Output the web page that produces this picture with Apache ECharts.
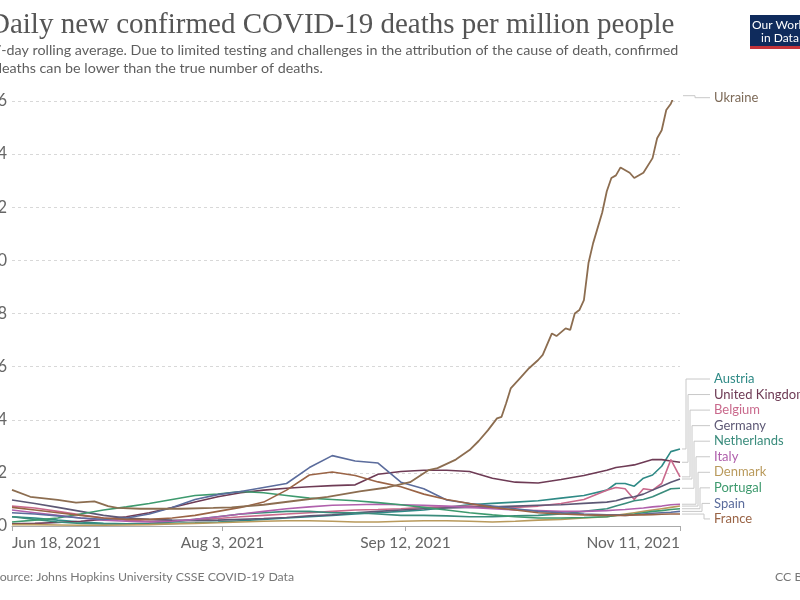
<!DOCTYPE html>
<html><head><meta charset="utf-8">
<script src="https://cdn.jsdelivr.net/npm/echarts@6/dist/echarts.min.js"></script>
<style>html,body{margin:0;padding:0;background:#fff}#c{width:800px;height:600px}</style>
</head><body><div id="c"></div>
<script>
// ---- data ----
const dates = ['2021-06-18','2021-06-23','2021-06-28','2021-07-03','2021-07-08','2021-07-13','2021-07-18','2021-07-23','2021-07-28','2021-08-02','2021-08-07','2021-08-12','2021-08-17','2021-08-22','2021-08-27','2021-09-01','2021-09-06','2021-09-11','2021-09-16','2021-09-21','2021-09-26','2021-10-01','2021-10-06','2021-10-11','2021-10-16','2021-10-21','2021-10-26','2021-10-28','2021-10-30','2021-11-01','2021-11-03','2021-11-05','2021-11-07','2021-11-09','2021-11-11'];
const austria = [0.35,0.3,0.22,0.15,0.1,0.08,0.08,0.1,0.12,0.15,0.2,0.25,0.3,0.35,0.4,0.45,0.5,0.55,0.6,0.7,0.8,0.85,0.9,0.95,1.05,1.15,1.35,1.6,1.6,1.5,1.8,1.92,2.25,2.8,2.9];
const unitedKingdom = [0.08,0.1,0.13,0.18,0.25,0.35,0.5,0.7,0.9,1.1,1.25,1.35,1.42,1.48,1.52,1.55,1.95,2.05,2.1,2.1,2.05,1.8,1.65,1.62,1.75,1.9,2.1,2.2,2.25,2.3,2.4,2.5,2.5,2.45,2.4];
const belgium = [0.75,0.68,0.55,0.42,0.3,0.22,0.18,0.2,0.22,0.28,0.35,0.4,0.45,0.5,0.55,0.6,0.62,0.65,0.7,0.72,0.75,0.72,0.7,0.75,0.85,1.0,1.35,1.45,1.4,1.0,1.4,1.35,1.6,2.5,1.85];
const germany = [0.98,0.85,0.7,0.55,0.4,0.3,0.25,0.22,0.2,0.22,0.25,0.28,0.32,0.38,0.42,0.5,0.55,0.6,0.65,0.68,0.7,0.72,0.75,0.78,0.8,0.85,0.9,0.95,1.05,1.1,1.2,1.35,1.5,1.65,1.77];
const netherlands = [0.35,0.25,0.15,0.1,0.08,0.08,0.1,0.15,0.25,0.35,0.45,0.5,0.55,0.55,0.5,0.5,0.45,0.4,0.4,0.38,0.35,0.35,0.38,0.4,0.45,0.55,0.65,0.75,0.85,0.95,1.0,1.1,1.25,1.4,1.42];
const italy = [0.6,0.5,0.4,0.3,0.22,0.18,0.15,0.18,0.25,0.35,0.45,0.55,0.65,0.72,0.78,0.8,0.82,0.8,0.78,0.75,0.7,0.65,0.6,0.58,0.55,0.55,0.58,0.6,0.62,0.65,0.68,0.72,0.75,0.8,0.82];
const denmark = [0.05,0.05,0.04,0.03,0.03,0.04,0.05,0.08,0.1,0.12,0.15,0.18,0.2,0.2,0.18,0.15,0.15,0.18,0.2,0.2,0.18,0.15,0.18,0.22,0.25,0.3,0.35,0.4,0.45,0.5,0.55,0.6,0.65,0.7,0.75];
const portugal = [0.15,0.22,0.3,0.45,0.6,0.72,0.85,1.0,1.15,1.2,1.3,1.25,1.15,1.05,1.0,0.95,0.88,0.8,0.7,0.6,0.5,0.42,0.35,0.3,0.3,0.32,0.35,0.4,0.42,0.45,0.5,0.55,0.58,0.62,0.65];
const spain = [0.5,0.45,0.38,0.3,0.25,0.3,0.45,0.7,1.0,1.18,1.3,1.45,1.6,2.2,2.65,2.45,2.37,1.65,1.4,0.98,0.85,0.75,0.65,0.55,0.5,0.45,0.42,0.42,0.4,0.42,0.45,0.48,0.5,0.52,0.55];
const france = [0.7,0.6,0.5,0.4,0.3,0.25,0.25,0.3,0.4,0.55,0.7,0.9,1.35,1.92,2.03,1.9,1.66,1.48,1.2,1.0,0.85,0.7,0.6,0.5,0.45,0.42,0.4,0.4,0.4,0.42,0.42,0.43,0.44,0.45,0.45];

const ukraineDates = ['2021-06-18','2021-06-22','2021-06-28','2021-07-02','2021-07-06','2021-07-09','2021-07-11','2021-07-16','2021-07-25','2021-08-01','2021-08-05','2021-08-12','2021-08-19','2021-08-26','2021-09-02','2021-09-08','2021-09-13','2021-09-17','2021-09-19','2021-09-23','2021-09-26','2021-09-28','2021-09-30','2021-10-02','2021-10-03','2021-10-04','2021-10-05','2021-10-07','2021-10-09','2021-10-11','2021-10-12','2021-10-14','2021-10-15','2021-10-17','2021-10-18','2021-10-19','2021-10-20','2021-10-21','2021-10-22','2021-10-23','2021-10-25','2021-10-26','2021-10-27','2021-10-28','2021-10-29','2021-10-31','2021-11-01','2021-11-03','2021-11-05','2021-11-06','2021-11-07','2021-11-08','2021-11-09','2021-11-10','2021-11-11'];
const ukraine = [1.36,1.1,0.98,0.88,0.93,0.75,0.68,0.65,0.65,0.68,0.7,0.8,0.95,1.1,1.3,1.45,1.65,2.1,2.18,2.5,2.86,3.2,3.6,4.05,4.11,4.62,5.18,5.56,5.94,6.25,6.44,7.25,7.15,7.44,7.38,8.0,8.13,8.5,9.9,10.64,11.8,12.6,13.1,13.2,13.5,13.3,13.1,13.3,13.85,14.6,14.9,15.66,15.9,16.3,16.2];

const xTickDates = ['2021-06-18','2021-08-03','2021-09-12','2021-11-11'];
const yMin = 0, yMax = 16, yStep = 2;

const countries = [
  {name:'Austria', values:austria, color:'#2f8a86'},
  {name:'United Kingdom', values:unitedKingdom, color:'#6e3b55'},
  {name:'Belgium', values:belgium, color:'#c9698c'},
  {name:'Germany', values:germany, color:'#5d5875'},
  {name:'Netherlands', values:netherlands, color:'#3a8c7c'},
  {name:'Italy', values:italy, color:'#b060ac'},
  {name:'Denmark', values:denmark, color:'#b99a5c'},
  {name:'Portugal', values:portugal, color:'#3e9a6e'},
  {name:'Spain', values:spain, color:'#5b6c9c'},
  {name:'France', values:france, color:'#9a6446'}
];
const ukraineColor = '#8c6d50';

// ---- chart ----
function toTs(s){const p=s.split('-').map(Number);return new Date(p[0],p[1]-1,p[2]).getTime();}
const MONTHS=['Jan','Feb','Mar','Apr','May','Jun','Jul','Aug','Sep','Oct','Nov','Dec'];
const tickVals = xTickDates.map(toTs);
const chart = echarts.init(document.getElementById('c'), null, {renderer:'canvas'});

const series = countries.map(c => ({
  name:c.name, type:'line', showSymbol:false, symbol:'none', animation:false,
  lineStyle:{width:1.6, color:c.color}, itemStyle:{color:c.color},
  data: dates.map((d,i)=>[toTs(d), c.values[i]])
}));
series.push({
  name:'Ukraine', type:'line', showSymbol:false, symbol:'none', animation:false,
  lineStyle:{width:1.8, color:ukraineColor}, itemStyle:{color:ukraineColor},
  data: ukraineDates.map((d,i)=>[toTs(d), ukraine[i]])
});

chart.setOption({
  animation:false,
  grid:{left:12, right:120, top:101, bottom:74, containLabel:false, outerBoundsMode:'none'},
  xAxis:{
    type:'value', min:tickVals[0], max:tickVals[tickVals.length-1],
    axisLine:{lineStyle:{color:'#aaa', width:1}},
    axisTick:{show:true, customValues:tickVals, length:5, lineStyle:{color:'#aaa'}},
    axisLabel:{
      customValues:tickVals, showMinLabel:true, showMaxLabel:true,
      alignMinLabel:'left', alignMaxLabel:'right',
      fontSize:15.5, color:'#666', fontFamily:'Lato', margin:9,
      formatter:function(v){const d=new Date(v);return MONTHS[d.getMonth()]+' '+d.getDate()+', '+d.getFullYear();}
    },
    splitLine:{show:false}
  },
  yAxis:{
    type:'value', min:yMin, max:yMax, interval:yStep,
    axisLine:{show:false}, axisTick:{show:false},
    axisLabel:{margin:5, fontSize:16.5, color:'#666', fontFamily:'Lato'},
    splitLine:{lineStyle:{color:'#d8d8d8', type:[3,3], width:1}}
  },
  series:series
});

// ---- labels, connectors, header, footer ----
const g = [];
g.push({type:'text', x:-11, y:25, style:{text:'Daily new confirmed COVID-19 deaths per million people', font:'29px "Liberation Serif"', fill:'#555', verticalAlign:'middle'}});
g.push({type:'text', x:-7, y:50, style:{text:'7-day rolling average. Due to limited testing and challenges in the attribution of the cause of death, confirmed', font:'14.3px Lato', fill:'#5e5e5e', verticalAlign:'middle'}});
g.push({type:'text', x:-6, y:68, style:{text:'deaths can be lower than the true number of deaths.', font:'14.3px Lato', fill:'#5e5e5e', verticalAlign:'middle'}});
g.push({type:'rect', shape:{x:750, y:15, width:60, height:32}, style:{fill:'#0f2b5c'}});
g.push({type:'rect', shape:{x:750, y:46, width:60, height:3}, style:{fill:'#c4343a'}});
g.push({type:'text', x:780, y:25, style:{text:'Our World', font:'12px Lato', fill:'#fff', align:'center', verticalAlign:'middle'}});
g.push({type:'text', x:780, y:38, style:{text:'in Data', font:'12px Lato', fill:'#fff', align:'center', verticalAlign:'middle'}});
g.push({type:'text', x:-7, y:577, style:{text:'Source: Johns Hopkins University CSSE COVID-19 Data', font:'12.3px Lato', fill:'#777', verticalAlign:'middle'}});
g.push({type:'text', x:775, y:577, style:{text:'CC BY', font:'12.3px Lato', fill:'#777', verticalAlign:'middle'}});

const LABEL_X = 714, LABEL_TOP = 379, LABEL_STEP = 15.55;
countries.forEach((c,r)=>{
  const last = c.values.length-1;
  const p = chart.convertToPixel({xAxisIndex:0,yAxisIndex:0},[toTs(dates[last]), c.values[last]]);
  const ly = LABEL_TOP + r*LABEL_STEP;
  const ex = 686 + r*2;
  g.push({type:'polyline', shape:{points:[[p[0]+2,p[1]],[ex,p[1]],[ex,ly],[LABEL_X-4,ly]]}, style:{stroke:'#c8c8c8', lineWidth:1, fill:null}});
  g.push({type:'text', x:LABEL_X, y:ly, style:{text:c.name, font:'13px Lato', fill:c.color, verticalAlign:'middle'}});
});
{
  const last = ukraine.length-1;
  const p = chart.convertToPixel({xAxisIndex:0,yAxisIndex:0},[toTs(ukraineDates[last]), ukraine[last]]);
  const ly = p[1]+2;
  g.push({type:'polyline', shape:{points:[[p[0]+3,p[1]],[695,p[1]],[695,ly],[LABEL_X-4,ly]]}, style:{stroke:'#c8c8c8', lineWidth:1, fill:null}});
  g.push({type:'text', x:LABEL_X, y:ly, style:{text:'Ukraine', font:'13px Lato', fill:'#7d6a58', verticalAlign:'middle'}});
}
chart.setOption({graphic:g});
</script>
</body></html>
